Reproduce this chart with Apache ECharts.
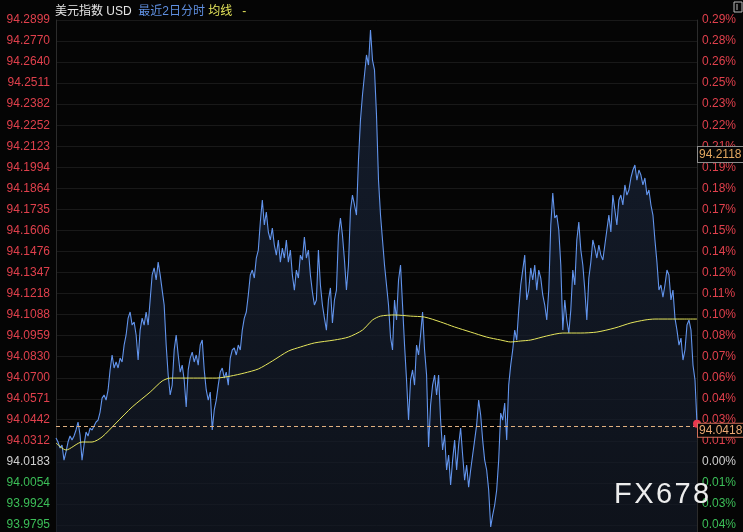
<!DOCTYPE html>
<html><head><meta charset="utf-8">
<script src="https://cdn.jsdelivr.net/npm/echarts@6/dist/echarts.min.js"></script>
<style>html,body{margin:0;padding:0;background:#050505;}#c{width:743px;height:532px;}</style>
</head><body><div id="c"></div>
<script>
const prevClose = 94.0183;
const lastPrice = 94.0418;
const markedPrice = 94.2118;
const priceTickLabels = ['93.9795','93.9924','94.0054','94.0183','94.0312','94.0442','94.0571','94.0700','94.0830','94.0959','94.1088','94.1218','94.1347','94.1476','94.1606','94.1735','94.1864','94.1994','94.2123','94.2252','94.2382','94.2511','94.2640','94.2770','94.2899'];
const pctTickLabels = ['0.04%','0.03%','0.01%','0.00%','0.01%','0.03%','0.04%','0.06%','0.07%','0.08%','0.10%','0.11%','0.12%','0.14%','0.15%','0.17%','0.18%','0.19%','0.21%','0.22%','0.23%','0.25%','0.26%','0.28%','0.29%'];
const prices = [
94.0330,94.0305,94.0268,94.0287,94.0194,94.0244,94.0305,94.0342,94.0317,94.0342,
94.0379,94.0428,94.0348,94.0194,94.0287,94.0366,94.0342,94.0391,94.0379,94.0403,
94.0428,94.0440,94.0489,94.0575,94.0594,94.0563,94.0625,94.0748,94.0840,94.0760,
94.0797,94.0760,94.0821,94.0797,94.0901,94.0963,94.1067,94.1104,94.1024,94.1043,
94.0963,94.0809,94.0993,94.1067,94.1024,94.1104,94.1024,94.1178,94.1332,94.1375,
94.1301,94.1411,94.1332,94.1239,94.1147,94.0901,94.0717,94.0594,94.0655,94.0871,
94.0963,94.0840,94.0735,94.0778,94.0686,94.0520,94.0748,94.0821,94.0858,94.0797,
94.0840,94.0778,94.0901,94.0932,94.0748,94.0625,94.0563,94.0612,94.0379,94.0502,
94.0563,94.0655,94.0735,94.0760,94.0698,94.0735,94.0655,94.0821,94.0871,94.0883,
94.0840,94.0901,94.0871,94.0993,94.1067,94.1104,94.1209,94.1332,94.1362,94.1313,
94.1436,94.1485,94.1657,94.1793,94.1639,94.1719,94.1596,94.1547,94.1620,94.1516,
94.1454,94.1547,94.1411,94.1497,94.1436,94.1547,94.1411,94.1485,94.1332,94.1239,
94.1362,94.1313,94.1454,94.1424,94.1565,94.1436,94.1485,94.1332,94.1227,94.1147,
94.1178,94.1485,94.1270,94.1147,94.1067,94.0993,94.1178,94.1252,94.1037,94.1178,
94.1239,94.1577,94.1682,94.1577,94.1424,94.1239,94.1393,94.1731,94.1823,94.1762,
94.1700,94.2038,94.2284,94.2438,94.2561,94.2684,94.2622,94.2838,94.2653,94.2592,
94.2315,94.1915,94.1700,94.1547,94.1393,94.1270,94.1147,94.0950,94.0871,94.1178,
94.1055,94.1301,94.1393,94.1147,94.0901,94.0686,94.0440,94.0686,94.0748,94.0655,
94.0901,94.0840,94.0963,94.1104,94.0871,94.0717,94.0274,94.0532,94.0655,94.0717,
94.0594,94.0717,94.0440,94.0256,94.0348,94.0133,94.0225,94.0041,94.0194,94.0317,
94.0133,94.0287,94.0391,94.0225,94.0071,94.0164,94.0028,94.0133,94.0225,94.0317,
94.0410,94.0563,94.0471,94.0317,94.0194,94.0133,94.0010,93.9783,93.9856,93.9918,
94.0010,94.0194,94.0483,94.0440,94.0545,94.0317,94.0655,94.0778,94.0871,94.0993,
94.0932,94.1116,94.1270,94.1362,94.1454,94.1178,94.1239,94.1375,94.1301,94.1393,
94.1239,94.1362,94.1313,94.1209,94.1147,94.1055,94.1239,94.1639,94.1836,94.1682,
94.1700,94.1608,94.1393,94.0993,94.1178,94.1055,94.0975,94.1116,94.1362,94.1270,
94.1547,94.1657,94.1485,94.1393,94.1239,94.1055,94.1313,94.1411,94.1547,94.1497,
94.1436,94.1516,94.1454,94.1424,94.1516,94.1608,94.1700,94.1596,94.1823,94.1731,
94.1639,94.1793,94.1823,94.1762,94.1885,94.1823,94.1854,94.1928,94.1977,94.2008,
94.1915,94.1977,94.1946,94.1885,94.1928,94.1823,94.1854,94.1762,94.1700,94.1547,
94.1411,94.1239,94.1270,94.1196,94.1270,94.1362,94.1332,94.1178,94.1239,94.1067,
94.0993,94.0901,94.0944,94.0809,94.0871,94.1024,94.1055,94.0993,94.0778,94.0686,
94.0418
];
// average line: [sample index, average price]
const avgPoints = [
[0,94.0299],[5,94.0256],[13,94.0305],[18,94.0305],[23,94.0336],[30,94.0422],[38,94.0520],
[47,94.0612],[53,94.0680],[57,94.0698],[72,94.0698],[80,94.0698],[87,94.0710],[94,94.0729],
[101,94.0754],[108,94.0803],[116,94.0864],[122,94.0889],[129,94.0914],[139,94.0932],[146,94.0950],
[153,94.0993],[158,94.1055],[162,94.1079],[169,94.1086],[177,94.1079],[184,94.1073],[192,94.1043],
[199,94.1012],[207,94.0981],[215,94.0950],[222,94.0932],[227,94.0920],[232,94.0926],[237,94.0932],
[245,94.0957],[253,94.0975],[262,94.0975],[270,94.0981],[279,94.1006],[287,94.1037],[294,94.1055],
[299,94.1061],[307,94.1061],[320,94.1061]
];
const categories = prices.map((_, i) => i);
const tickValues = priceTickLabels.map(Number);

const RED = '#e0404c', GREEN = '#3cbf58', NEUTRAL = '#cfcfcf';
function tickColor(v) {
  if (Math.abs(v - prevClose) < 1e-6) return NEUTRAL;
  return v > prevClose ? RED : GREEN;
}
function nearestIdx(v) {
  let best = 0, d = Infinity;
  tickValues.forEach((t, i) => { const dd = Math.abs(t - v); if (dd < d) { d = dd; best = i; } });
  return best;
}
const yMin = 93.9752, yMax = 94.2899;
const baseFont = 'Liberation Sans, Arial, Noto Sans CJK SC, sans-serif';

const chart = echarts.init(document.getElementById('c'), null, {renderer: 'canvas'});
chart.setOption({
  backgroundColor: '#050505',
  animation: false,
  textStyle: {fontFamily: baseFont},
  title: {
    left: 50, top: 1,
    text: '{w|美元指数 USD}  {b|最近2日分时} {y|均线}   {y|-}',
    textStyle: {
      fontSize: 12, fontWeight: 'normal',
      rich: {
        w: {color: '#e6e6e6', fontSize: 12, fontWeight: 'normal', fontFamily: baseFont},
        b: {color: '#5f8fe0', fontSize: 12, fontWeight: 'normal', fontFamily: baseFont},
        y: {color: '#e3e35a', fontSize: 12, fontWeight: 'normal', fontFamily: baseFont}
      }
    }
  },
  grid: {left: 56, right: 46, top: 20, bottom: 0},
  xAxis: {
    type: 'category', data: categories, boundaryGap: false,
    axisLine: {show: false}, axisTick: {show: false}, axisLabel: {show: false}, splitLine: {show: false}
  },
  yAxis: [
    {
      type: 'value', min: yMin, max: yMax, position: 'left',
      axisLine: {show: true, lineStyle: {color: '#2c2c2c'}},
      axisTick: {show: false, customValues: tickValues},
      splitLine: {show: true, lineStyle: {color: '#191919', width: 1}},
      axisLabel: {
        customValues: tickValues, margin: 6, fontSize: 12, fontFamily: baseFont,
        formatter: v => priceTickLabels[nearestIdx(v)],
        color: v => tickColor(v)
      }
    },
    {
      type: 'value', min: yMin, max: yMax, position: 'right',
      axisLine: {show: true, lineStyle: {color: '#2c2c2c'}},
      axisTick: {show: false, customValues: tickValues},
      splitLine: {show: false},
      axisLabel: {
        customValues: tickValues, margin: 5, fontSize: 12, fontFamily: baseFont,
        formatter: v => pctTickLabels[nearestIdx(v)],
        color: v => tickColor(v)
      }
    }
  ],
  series: [
    {
      name: '最近2日分时', type: 'line', data: prices, yAxisIndex: 0,
      symbol: 'none', smooth: false,
      lineStyle: {color: '#6294ec', width: 1.1},
      areaStyle: {
        origin: 'start',
        color: new echarts.graphic.LinearGradient(0, 0, 0, 1, [
          {offset: 0, color: '#1a263c'}, {offset: 1, color: '#121824'}
        ])
      },
      markLine: {
        silent: true, symbol: 'none', animation: false,
        label: {show: false},
        lineStyle: {color: '#e0b080', type: [4, 3], width: 1},
        data: [{yAxis: lastPrice}]
      },
      markPoint: {
        silent: true, symbol: 'circle', symbolSize: 8, animation: false,
        itemStyle: {color: '#e8384f'}, label: {show: false},
        data: [{coord: [prices.length - 1, lastPrice]}]
      },
      z: 3
    },
    {
      name: '均线', type: 'line', data: avgPoints, yAxisIndex: 0,
      symbol: 'none', smooth: 0.25,
      lineStyle: {color: '#e6e65c', width: 1}, z: 4
    }
  ]
});

const yLast = chart.convertToPixel({yAxisIndex: 0}, lastPrice);
const yMark = chart.convertToPixel({yAxisIndex: 0}, markedPrice);
chart.setOption({
  graphic: [
    {type: 'text', x: 698, y: yLast, z: 100,
     style: {text: lastPrice.toFixed(4), fill: '#eaa874', font: '12px ' + baseFont,
             backgroundColor: '#050505', borderColor: '#d2705a', borderWidth: 1,
             padding: [1, 4, 0, 1], verticalAlign: 'top'}},
    {type: 'text', x: 698, y: yMark, z: 100,
     style: {text: markedPrice.toFixed(4), fill: '#e4a860', font: '12px ' + baseFont,
             backgroundColor: '#050505', borderColor: '#8c8c8c', borderWidth: 1,
             padding: [2, 4, 1, 1], verticalAlign: 'top'}},
    {type: 'text', x: 614, y: 480, z: 100,
     style: {text: 'F\u200AX\u200A6\u200A7\u200A8', fill: '#ededed', font: '29px Liberation Sans, Arial, sans-serif'}},
    {type: 'rect', x: 734, y: 2, z: 100, shape: {width: 8, height: 10},
     style: {fill: 'none', stroke: '#bbbbbb', lineWidth: 1}},
    {type: 'line', z: 100, shape: {x1: 737, y1: 4, x2: 737, y2: 10}, style: {stroke: '#bbbbbb', lineWidth: 1}}
  ]
});
</script>
</body></html>
